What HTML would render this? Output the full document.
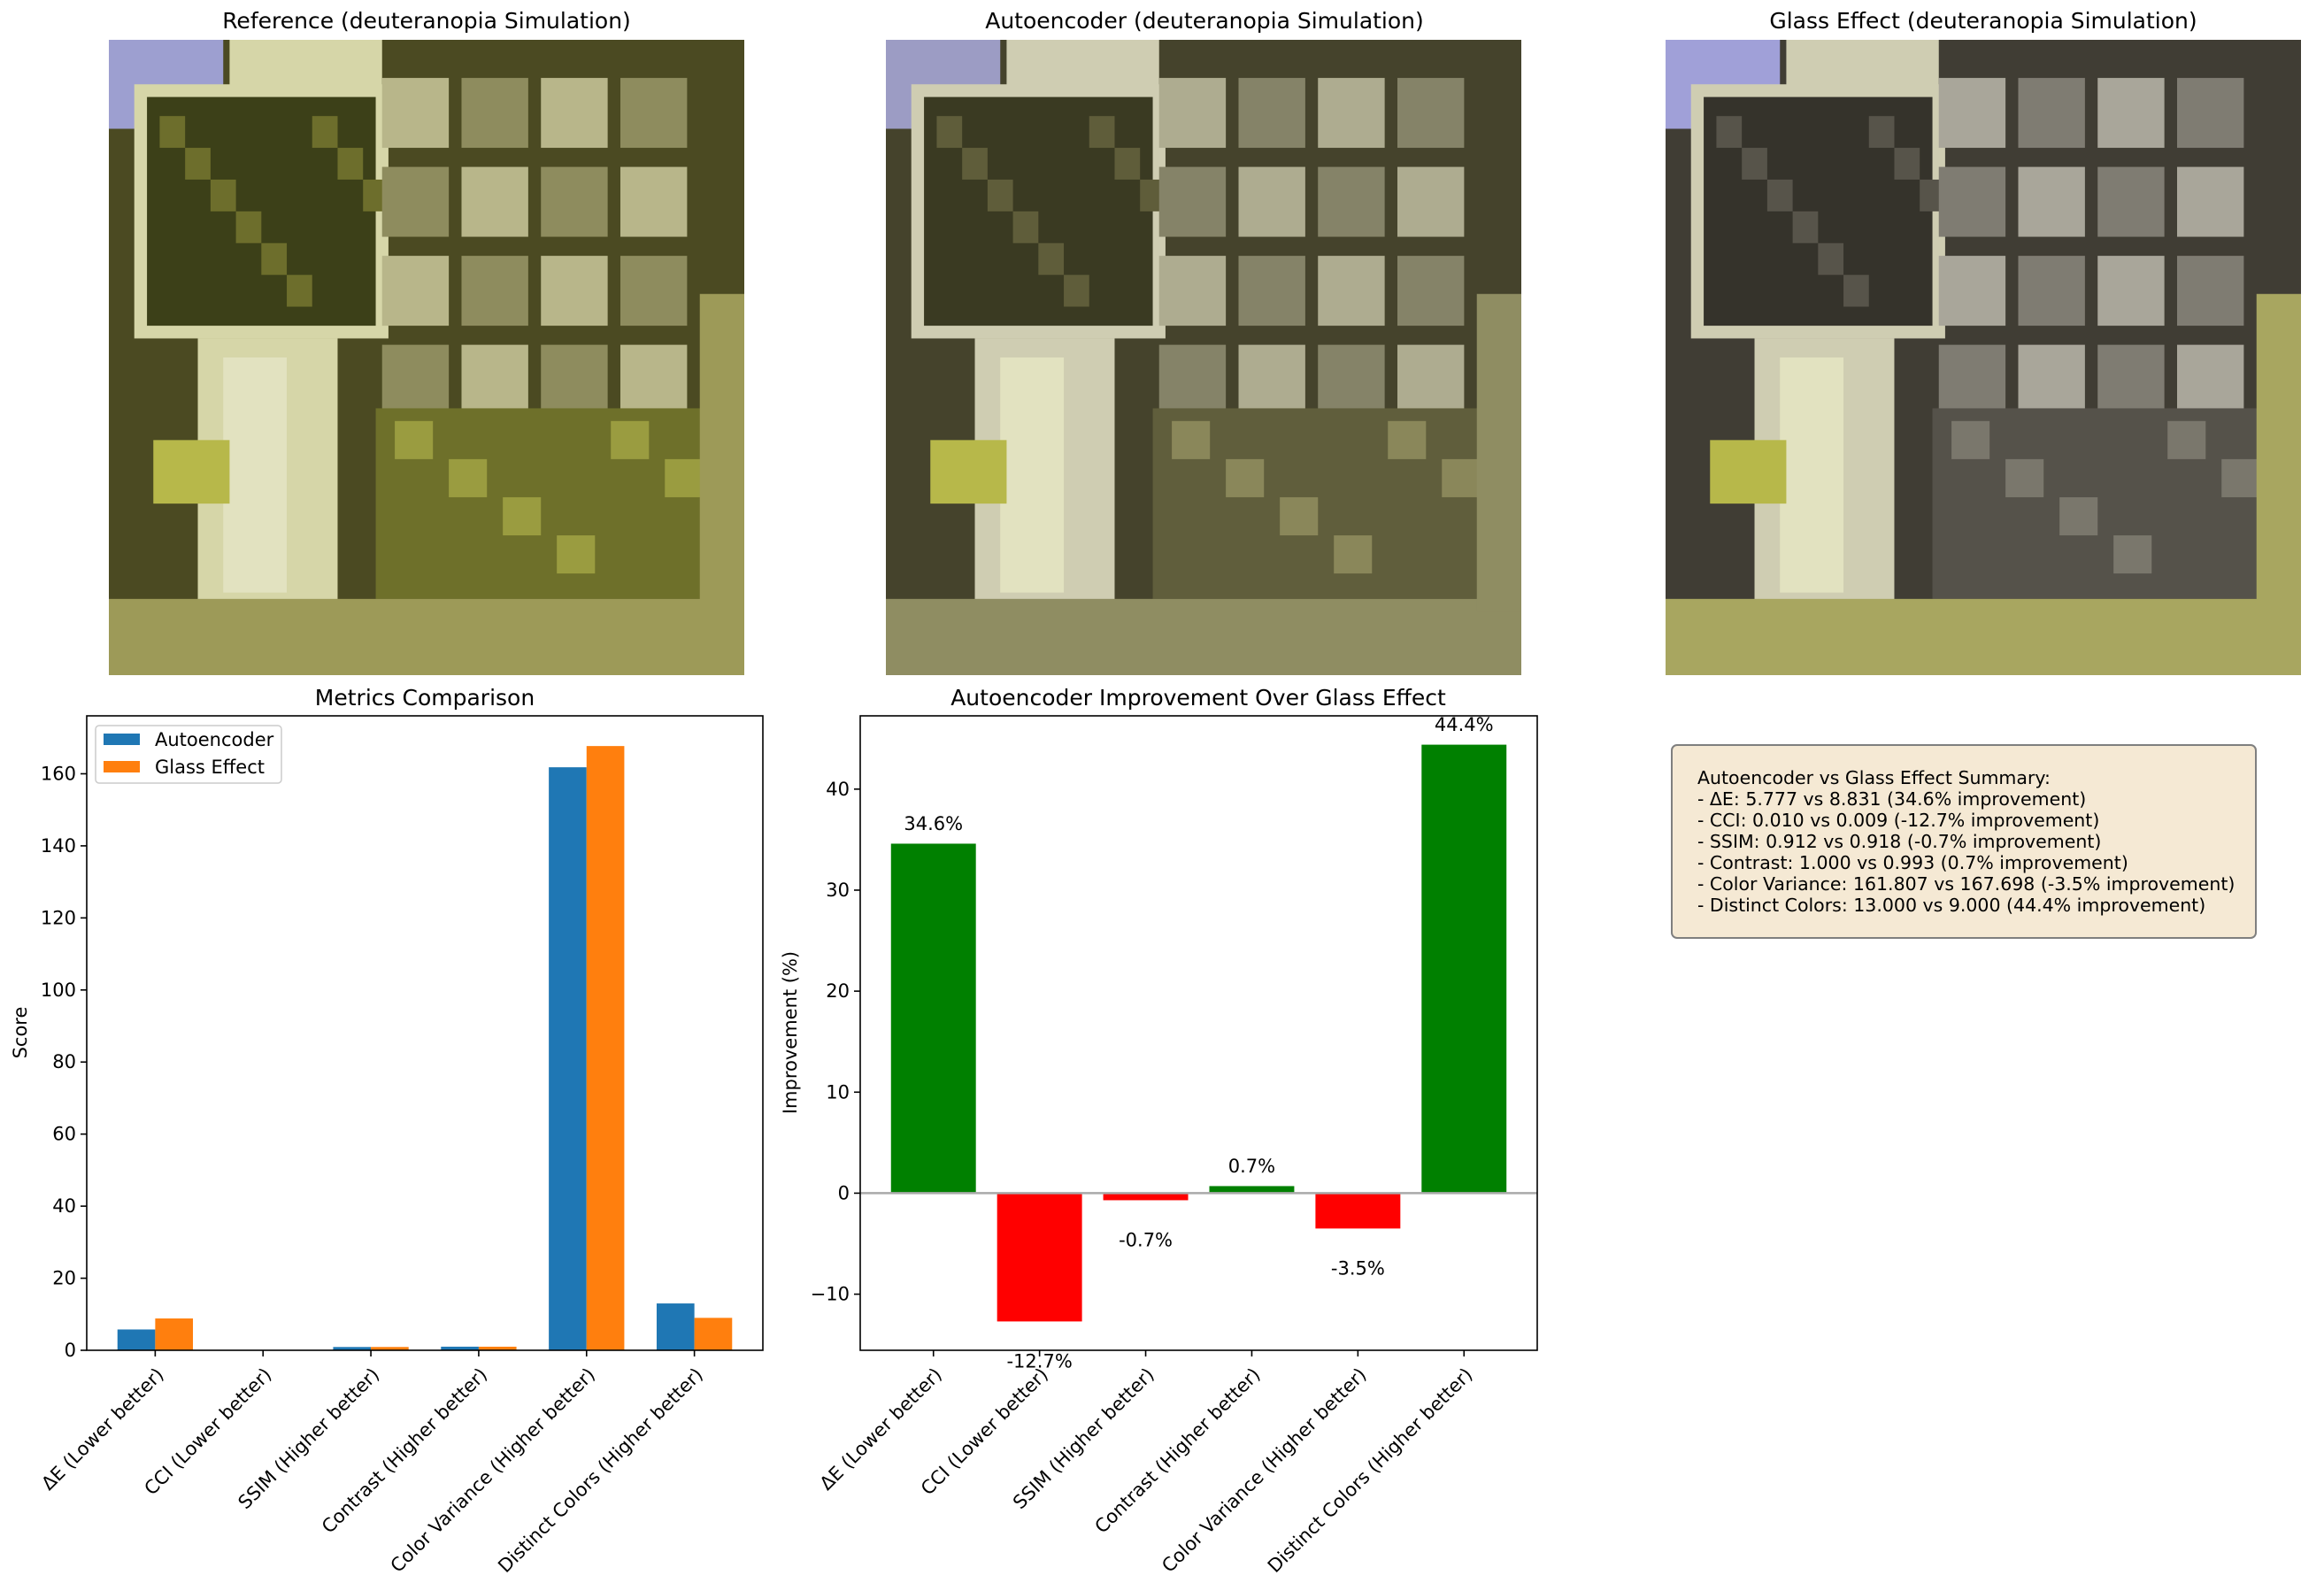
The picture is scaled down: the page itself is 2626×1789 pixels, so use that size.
<!DOCTYPE html>
<html><head><meta charset="utf-8"><style>
html,body{margin:0;padding:0;background:#fff;}
svg{display:block;font-family:"DejaVu Sans","Liberation Sans",sans-serif;}
</style></head><body>
<svg id="fig" width="2626" height="1789" viewBox="0 0 2626 1789" xmlns="http://www.w3.org/2000/svg">
<text x="482" y="32" font-size="25" text-anchor="middle">Reference (deuteranopia Simulation)</text>
<text x="1361" y="32" font-size="25" text-anchor="middle">Autoencoder (deuteranopia Simulation)</text>
<text x="2241" y="32" font-size="25" text-anchor="middle">Glass Effect (deuteranopia Simulation)</text>
<g id="imgs"></g>
<g id="left"></g>
<g id="right"></g>
<g>
<rect x="1889" y="842" width="660" height="218" rx="6" fill="#f5e9d4" stroke="#7f7f7f" stroke-width="2"/>
<text font-size="20.5" fill="#000">
<tspan x="1918" y="886">Autoencoder vs Glass Effect Summary:</tspan>
<tspan x="1918" y="910">- ΔE: 5.777 vs 8.831 (34.6% improvement)</tspan>
<tspan x="1918" y="934">- CCI: 0.010 vs 0.009 (-12.7% improvement)</tspan>
<tspan x="1918" y="958">- SSIM: 0.912 vs 0.918 (-0.7% improvement)</tspan>
<tspan x="1918" y="982">- Contrast: 1.000 vs 0.993 (0.7% improvement)</tspan>
<tspan x="1918" y="1006">- Color Variance: 161.807 vs 167.698 (-3.5% improvement)</tspan>
<tspan x="1918" y="1030">- Distinct Colors: 13.000 vs 9.000 (44.4% improvement)</tspan>
</text>
</g>
</svg>
<script>
const categories = ["ΔE (Lower better)","CCI (Lower better)","SSIM (Higher better)","Contrast (Higher better)","Color Variance (Higher better)","Distinct Colors (Higher better)"];
const autoencoderValues = [5.777, 0.010, 0.912, 1.000, 161.807, 13.000];
const glassValues = [8.831, 0.009, 0.918, 0.993, 167.698, 9.000];
const improvementValues = [34.6, -12.7, -0.7, 0.7, -3.5, 44.4];
const improvementLabels = ["34.6%","-12.7%","-0.7%","0.7%","-3.5%","44.4%"];
const leftTicks = [0,20,40,60,80,100,120,140,160];
const rightTicks = [-10,0,10,20,30,40];

const NS="http://www.w3.org/2000/svg";
function mk(tag, attrs, parent){const e=document.createElementNS(NS,tag);for(const k in attrs)e.setAttribute(k,attrs[k]);parent.appendChild(e);return e;}

// photos
const imgs=document.getElementById('imgs');
const palettes=[
 {bg:"#4b4a22",fol:"#3c4018",fol2:"#6d6e2c",pil:"#d6d6a8",pouch:"#8e8c5e",pouch2:"#b8b68a",sky:"#9d9fd0",wood:"#9d9a58",plant:"#6e702a",plant2:"#9a9c40"},
 {bg:"#45432c",fol:"#3a3a22",fol2:"#5f5d3a",pil:"#cfcdb2",pouch:"#858368",pouch2:"#aeac90",sky:"#9c9cc4",wood:"#8f8d62",plant:"#605e3c",plant2:"#8a875a"},
 {bg:"#403d34",fol:"#35332b",fol2:"#57544a",pil:"#cfcdb2",pouch:"#7f7c72",pouch2:"#a9a69a",sky:"#a0a0d8",wood:"#a8a660",plant:"#55524a",plant2:"#7a776c"}
];
const imgX=[123,1001,1882], imgY=45, S=718;
const names=['reference-image','autoencoder-image','glass-effect-image'];
imgX.forEach((x0,i)=>{
  const p=palettes[i];
  const g=mk('g',{},imgs);
  
  
  const R=(a,b,c,d,f)=>mk('rect',{x:x0+a*S,y:imgY+b*S,width:c*S,height:d*S,fill:f},g);
  R(0,0,1,1,p.bg);
  R(0,0,0.18,0.14,p.sky);
  R(0.19,0,0.24,0.12,p.pil);
  R(0.04,0.07,0.4,0.4,p.pil);
  R(0.06,0.09,0.36,0.36,p.fol);
  for(let k=0;k<9;k++)R(0.08+0.04*k,0.12+((k*37)%6)*0.05,0.04,0.05,p.fol2);
  R(0.14,0.47,0.22,0.43,p.pil);
  R(0.18,0.5,0.1,0.37,"#e2e2c0");
  for(let r=0;r<6;r++)for(let c=0;c<4;c++){
    R(0.43+c*0.125,0.06+r*0.14,0.105,0.11,(r+c)%2?p.pouch:p.pouch2);
  }
  R(0.42,0.58,0.54,0.3,p.plant);
  for(let k=0;k<6;k++)R(0.45+k*0.085,0.6+((k*29)%4)*0.06,0.06,0.06,p.plant2);
  R(0.0,0.88,1,0.12,p.wood);
  R(0.07,0.63,0.12,0.1,"#b7b84a");
  R(0.93,0.4,0.07,0.5,p.wood);
});

// left chart
const L={x0:98,x1:862,y0:809,y1:1526,xmin:-0.635,xmax:5.635,ymin:0,ymax:176.08};
const lx=v=>L.x0+(v-L.xmin)/(L.xmax-L.xmin)*(L.x1-L.x0);
const ly=v=>L.y1-(v-L.ymin)/(L.ymax-L.ymin)*(L.y1-L.y0);
const left=document.getElementById('left');
const bw=0.35;
categories.forEach((c,i)=>{
  const a=mk('rect',{x:lx(i-bw),y:ly(autoencoderValues[i]),width:lx(bw)-lx(0),height:ly(0)-ly(autoencoderValues[i]),fill:"#1f77b4"},left);
  
  
  const b=mk('rect',{x:lx(i),y:ly(glassValues[i]),width:lx(bw)-lx(0),height:ly(0)-ly(glassValues[i]),fill:"#ff7f0e"},left);
  
  
  mk('line',{x1:lx(i),x2:lx(i),y1:L.y1,y2:L.y1+7,stroke:"#000","stroke-width":1.6},left);
  const t=mk('text',{x:lx(i),y:L.y1+18,"font-size":21,"text-anchor":"end",transform:`rotate(-45 ${lx(i)} ${L.y1+18})`,"dominant-baseline":"hanging"},left);
  t.textContent=c;
  
  
});
leftTicks.forEach(v=>{
  mk('line',{x1:L.x0-7,x2:L.x0,y1:ly(v),y2:ly(v),stroke:"#000","stroke-width":1.6},left);
  const t=mk('text',{x:L.x0-12,y:ly(v)+7,"font-size":21,"text-anchor":"end"},left);
  t.textContent=v;
  
  
});
mk('rect',{x:L.x0,y:L.y0,width:L.x1-L.x0,height:L.y1-L.y0,fill:"none",stroke:"#000","stroke-width":1.6},left);
let t=mk('text',{x:480,y:797,"font-size":25,"text-anchor":"middle"},left);t.textContent="Metrics Comparison";


t=mk('text',{x:30,y:1167,"font-size":21,"text-anchor":"middle",transform:"rotate(-90 30 1167)"},left);t.textContent="Score";


const lg=mk('g',{},left);


mk('rect',{x:108,y:820,width:210,height:65,rx:4,fill:"#fff",stroke:"#ccc","stroke-width":1.5},lg);
mk('rect',{x:117,y:829,width:41,height:13,fill:"#1f77b4"},lg);
mk('rect',{x:117,y:860,width:41,height:13,fill:"#ff7f0e"},lg);
t=mk('text',{x:175,y:843,"font-size":21},lg);t.textContent="Autoencoder";
t=mk('text',{x:175,y:874,"font-size":21},lg);t.textContent="Glass Effect";

// right chart
const Rr={x0:972,x1:1737,y0:809,y1:1526,xmin:-0.69,xmax:5.69,ymin:-15.555,ymax:47.255};
const rx=v=>Rr.x0+(v-Rr.xmin)/(Rr.xmax-Rr.xmin)*(Rr.x1-Rr.x0);
const ry=v=>Rr.y1-(v-Rr.ymin)/(Rr.ymax-Rr.ymin)*(Rr.y1-Rr.y0);
const right=document.getElementById('right');
categories.forEach((c,i)=>{
  const v=improvementValues[i];
  const b=mk('rect',{x:rx(i-0.4),y:Math.min(ry(v),ry(0)),width:rx(0.8)-rx(0),height:Math.abs(ry(v)-ry(0)),fill:v>=0?"#008000":"#ff0000"},right);
  
  
  const lbl=mk('text',{x:rx(i),y:v>=0?ry(v+1)-4:ry(v-3)+18,"font-size":21,"text-anchor":"middle"},right);
  lbl.textContent=improvementLabels[i];
  
  
  mk('line',{x1:rx(i),x2:rx(i),y1:Rr.y1,y2:Rr.y1+7,stroke:"#000","stroke-width":1.6},right);
  const tt=mk('text',{x:rx(i),y:Rr.y1+18,"font-size":21,"text-anchor":"end",transform:`rotate(-45 ${rx(i)} ${Rr.y1+18})`,"dominant-baseline":"hanging"},right);
  tt.textContent=c;
  
  
});
mk('line',{x1:Rr.x0,x2:Rr.x1,y1:ry(0),y2:ry(0),stroke:"#aaaaaa","stroke-width":2.5},right);
rightTicks.forEach(v=>{
  mk('line',{x1:Rr.x0-7,x2:Rr.x0,y1:ry(v),y2:ry(v),stroke:"#000","stroke-width":1.6},right);
  const tt=mk('text',{x:Rr.x0-12,y:ry(v)+7,"font-size":21,"text-anchor":"end"},right);
  tt.textContent=v<0?"−"+Math.abs(v):v;
  
  
});
mk('rect',{x:Rr.x0,y:Rr.y0,width:Rr.x1-Rr.x0,height:Rr.y1-Rr.y0,fill:"none",stroke:"#000","stroke-width":1.6},right);
t=mk('text',{x:1354,y:797,"font-size":25,"text-anchor":"middle"},right);t.textContent="Autoencoder Improvement Over Glass Effect";


t=mk('text',{x:900,y:1167,"font-size":21,"text-anchor":"middle",transform:"rotate(-90 900 1167)"},right);t.textContent="Improvement (%)";


</script>
</body></html>
